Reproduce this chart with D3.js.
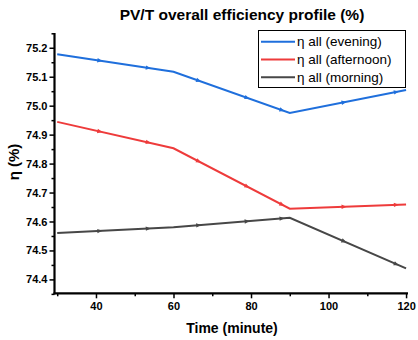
<!DOCTYPE html>
<html><head><meta charset="utf-8">
<script src="https://cdn.jsdelivr.net/npm/d3@7/dist/d3.min.js"></script>
<style>body{margin:0;background:#fff}svg{display:block}text{font-family:"Liberation Sans",Arial,sans-serif}</style>
</head><body><svg id="c" width="418" height="340"></svg>
<script>
const times = [30, 60, 90, 120];
const evening = [75.178, 75.117, 74.975, 75.054];
const afternoon = [74.944, 74.853, 74.644, 74.659];
const morning = [74.560, 74.580, 74.613, 74.438];
const markerTimes = [41, 53.5, 66.5, 79, 88, 104, 117.5];
const seriesNames = ["η all (evening)", "η all (afternoon)", "η all (morning)"];
const seriesColors = ["#1f6fdc", "#ee3b3b", "#474747"];
const xTicks = [40, 60, 80, 100, 120];
const yTicks = [74.4, 74.5, 74.6, 74.7, 74.8, 74.9, 75.0, 75.1, 75.2];

const svg = d3.select("#c");
const L = 54.5, R = 408, T = 33, B = 293.3;
const x = d3.scaleLinear().domain([29.3, 120.5]).range([L, R]);
const y = d3.scaleLinear().domain([74.352, 75.251]).range([B, T]);

const series = [evening, afternoon, morning];
const line = d3.line().x(d => x(d[0])).y(d => y(d[1]));
series.forEach((vals, i) => {
  const pts = times.map((t, j) => [t, vals[j]]);
  svg.append("path").attr("d", line(pts)).attr("fill", "none")
    .attr("stroke", seriesColors[i]).attr("stroke-width", 2);
  markerTimes.forEach(mt => {
    const k = Math.min(d3.bisectRight(times, mt), times.length - 1);
    const t0 = times[k - 1], t1 = times[k];
    const f = (mt - t0) / (t1 - t0);
    const v = vals[k - 1] + f * (vals[k] - vals[k - 1]);
    const dx = x(t1) - x(t0), dy = y(vals[k]) - y(vals[k - 1]);
    const ang = Math.atan2(dy, dx) * 180 / Math.PI;
    svg.append("path").attr("d", "M2.5,0L-2.5,-2.2L-2.5,2.2Z")
      .attr("fill", seriesColors[i])
      .attr("transform", `translate(${x(mt)},${y(v)}) rotate(${ang})`);
  });
});

// axes
const xAxis = d3.axisBottom(x).tickValues(xTicks).tickSize(5).tickFormat(d3.format("d"));
const gx = svg.append("g").attr("transform", `translate(0,${B})`).call(xAxis);
gx.select(".domain").remove();
gx.selectAll(".tick line").attr("stroke-width", 1.5);
gx.selectAll("text").attr("font-size", 11).attr("font-weight", "bold").attr("dy", "0.71em").attr("y", 9);
const gxm = svg.append("g").attr("transform", `translate(0,${B})`)
  .call(d3.axisBottom(x).tickValues([30, 50, 70, 90, 110]).tickSize(3).tickFormat(""));
gxm.select(".domain").remove();
gxm.selectAll(".tick line").attr("stroke-width", 1.5);

const yAxis = d3.axisLeft(y).tickValues(yTicks).tickSize(5).tickFormat(d3.format(".1f"));
const gy = svg.append("g").attr("transform", `translate(${L},0)`).call(yAxis);
gy.select(".domain").remove();
gy.selectAll(".tick line").attr("stroke-width", 1.5);
gy.selectAll("text").attr("font-size", 11).attr("font-weight", "bold").attr("x", -7);
const gym = svg.append("g").attr("transform", `translate(${L},0)`)
  .call(d3.axisLeft(y).tickValues(yTicks.map(v => v + 0.05).concat([74.35])).tickSize(3).tickFormat(""));
gym.select(".domain").remove();
gym.selectAll(".tick line").attr("stroke-width", 1.5);

svg.append("line").attr("x1", L).attr("x2", L).attr("y1", T).attr("y2", B + 1)
  .attr("stroke", "#000").attr("stroke-width", 2.2);
svg.append("line").attr("x1", L - 1).attr("x2", R).attr("y1", B).attr("y2", B)
  .attr("stroke", "#000").attr("stroke-width", 2.2);

// titles
svg.append("text").attr("x", 242).attr("y", 20).attr("text-anchor", "middle")
  .attr("font-size", 15.5).attr("font-weight", "bold").text("PV/T overall efficiency profile (%)");
svg.append("text").attr("x", 232).attr("y", 333).attr("text-anchor", "middle")
  .attr("font-size", 14).attr("font-weight", "bold").text("Time (minute)");
svg.append("text").attr("transform", "translate(19,162) rotate(-90)").attr("text-anchor", "middle")
  .attr("font-size", 15).attr("font-weight", "bold").text("η (%)");

// legend
const lg = svg.append("g");
lg.append("rect").attr("x", 258.5).attr("y", 30.5).attr("width", 147).attr("height", 57)
  .attr("fill", "#fff").attr("stroke", "#000").attr("stroke-width", 1);
seriesNames.forEach((n, i) => {
  const yy = 41.7 + i * 17.8;
  lg.append("line").attr("x1", 261).attr("x2", 295).attr("y1", yy).attr("y2", yy)
    .attr("stroke", seriesColors[i]).attr("stroke-width", 2);
  lg.append("text").attr("x", 297).attr("y", yy + 4.7).attr("font-size", 13.5).text(n);
});
</script></body></html>
